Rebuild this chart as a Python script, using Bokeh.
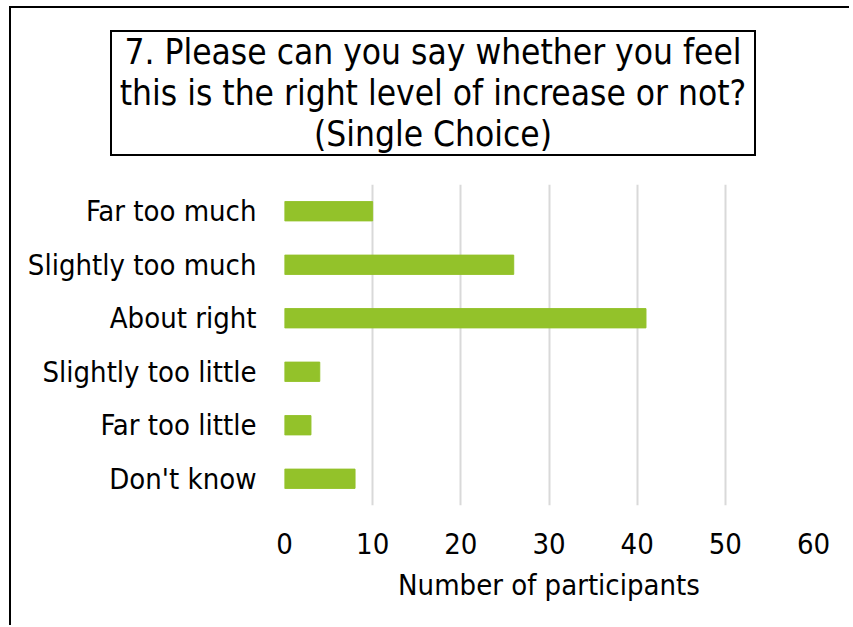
from bokeh.plotting import figure
from bokeh.models import FixedTicker, Div
from bokeh.layouts import column
from bokeh.embed import file_html
from bokeh.resources import INLINE

categories = ["Far too much", "Slightly too much", "About right",
              "Slightly too little", "Far too little", "Don't know"]
counts = [10, 26, 41, 4, 3, 8]
x_ticks = [0, 10, 20, 30, 40, 50, 60]
title_lines = ["7. Please can you say whether you feel",
               "this is the right level of increase or not?",
               "(Single Choice)"]
x_label = "Number of participants"

FONT = "DejaVu Sans Condensed"
W = 838
H_TITLE = 170
H_CHART = 447

# --- title strip ---
title_html = (
    '<div style="margin-left:99px; margin-top:22px; width:646px; height:126px; '
    'box-sizing:border-box; border:2px solid black; background:white; '
    f"font-family:'{FONT}'; font-size:35px; line-height:41px; color:black; "
    'text-align:center; white-space:nowrap; overflow:visible;">'
    + "<br>".join(title_lines) + "</div>"
)
t = Div(text=title_html, width=W, height=H_TITLE,
        styles={"margin": "0", "padding": "0"})

# --- chart ---
p = figure(width=W, height=H_CHART, y_range=list(reversed(categories)), x_range=(0, 60),
           output_backend="svg", toolbar_location=None, tools="",
           min_border_left=273, min_border_right=36, min_border_top=6, min_border_bottom=120)

p.hbar(y=categories, right=counts, left=0, height=0.36, color="#93C22A")

p.outline_line_color = None
p.ygrid.grid_line_color = None
p.xgrid.grid_line_color = "#d9d9d9"
p.xgrid.grid_line_width = 2
p.xaxis.ticker = FixedTicker(ticks=x_ticks)
p.xaxis.axis_label = x_label
for ax in (p.xaxis, p.yaxis):
    ax.axis_line_color = None
    ax.major_tick_line_color = None
    ax.minor_tick_line_color = None
    ax.major_label_text_font = FONT
    ax.major_label_text_font_size = "29px"
    ax.major_label_text_color = "black"
    ax.axis_label_text_font = FONT
    ax.axis_label_text_font_size = "29px"
    ax.axis_label_text_font_style = "normal"
    ax.axis_label_text_color = "black"
p.xaxis.major_label_standoff = 21
p.xaxis.axis_label_standoff = 11
p.yaxis.major_label_standoff = 22

layout = column(t, p, spacing=0)
layout.styles = {"border-left": "2px solid black", "border-top": "2px solid black",
                 "margin-left": "9px", "margin-top": "6px"}

open("out.html", "w").write(file_html(layout, INLINE))
